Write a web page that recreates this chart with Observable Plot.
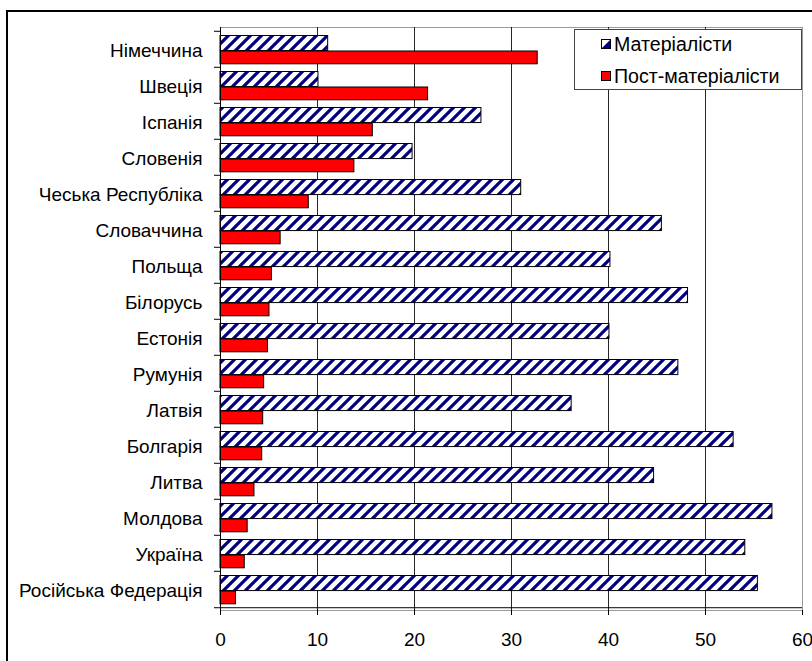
<!DOCTYPE html>
<html>
<head>
<meta charset="utf-8">
<script src="https://cdn.jsdelivr.net/npm/d3@7"></script>
<script src="https://cdn.jsdelivr.net/npm/@observablehq/plot@0.6"></script>
<style>
  html, body { margin: 0; padding: 0; background: #fff; }
  body { width: 812px; height: 661px; overflow: hidden; position: relative; font-family: "Liberation Sans", Arial, sans-serif; }
  #frame { position: absolute; left: 6px; top: 10px; width: 900px; height: 800px; border: 2px solid #000; box-sizing: border-box; }
  #chart { position: absolute; left: 0; top: 0; }
  #chart svg text { font-family: "Liberation Sans", Arial, sans-serif !important; font-size: 19px !important; fill: #000; }
  #legend { position: absolute; left: 574px; top: 29px; width: 228px; height: 61px; border: 1px solid #444; box-sizing: border-box; background: #fff; font-size: 19.6px; color: #000; }
  .item { position: absolute; left: 26px; display: flex; align-items: center; white-space: nowrap; line-height: 20px; }
  .item svg { margin-right: 3px; }
</style>
</head>
<body>
<div id="frame"></div>
<div id="chart"></div>
<div id="legend"></div>
<script>
const countries = [
  "Німеччина", "Швеція", "Іспанія", "Словенія", "Чеська Республіка", "Словаччина",
  "Польща", "Білорусь", "Естонія", "Румунія", "Латвія", "Болгарія", "Литва",
  "Молдова", "Україна", "Російська Федерація"
];
const materialists = [11.1, 10.1, 26.9, 19.8, 31.0, 45.5, 40.2, 48.2, 40.1, 47.2, 36.2, 52.9, 44.7, 56.9, 54.1, 55.4];
const postMaterialists = [32.7, 21.4, 15.7, 13.8, 9.1, 6.2, 5.3, 5.05, 4.9, 4.5, 4.4, 4.3, 3.5, 2.8, 2.5, 1.6];
const seriesNames = ["Матеріалісти", "Пост-матеріалісти"];
const xTicks = [0, 10, 20, 30, 40, 50, 60];

const data = countries.map((c, i) => ({country: c, mat: materialists[i], post: postMaterialists[i]}));

const W = 812, H = 661, mT = 27, mB = 51, mL = 220, mR = 10;
const bw = (H - mT - mB) / countries.length;

function hatchDefs(id) {
  const ns = "http://www.w3.org/2000/svg";
  const s = 11;
  const defs = document.createElementNS(ns, "defs");
  const p = document.createElementNS(ns, "pattern");
  p.setAttribute("id", id);
  p.setAttribute("patternUnits", "userSpaceOnUse");
  p.setAttribute("width", s);
  p.setAttribute("height", s);
  const bg = document.createElementNS(ns, "rect");
  bg.setAttribute("width", s); bg.setAttribute("height", s); bg.setAttribute("fill", "#fff");
  p.appendChild(bg);
  const path = document.createElementNS(ns, "path");
  path.setAttribute("d", `M-2,${s + 2} L${s + 2},-2 M-4,4 L4,-4 M${s - 4},${s + 4} L${s + 4},${s - 4}`);
  path.setAttribute("stroke", "#000080");
  path.setAttribute("stroke-width", 3.2);
  p.appendChild(path);
  defs.appendChild(p);
  return defs;
}

const chart = Plot.plot({
  width: W, height: H,
  marginTop: mT, marginBottom: mB, marginLeft: mL, marginRight: mR,
  style: {fontFamily: "'Liberation Sans', Arial, sans-serif", fontSize: "19px", color: "#000", background: "transparent", overflow: "visible"},
  x: {domain: [0, 60], label: null},
  y: {domain: countries, padding: 0, label: null},
  marks: [
    () => { const g = document.createElementNS("http://www.w3.org/2000/svg", "g"); g.appendChild(hatchDefs("hatch")); return g; },
    Plot.frame({stroke: "#9a9a9a"}),
    Plot.gridX(xTicks.slice(1, -1), {stroke: "#000", strokeOpacity: 0.85}),
    Plot.barX(data, {x: "mat", y: "country", fill: "url(#hatch)", stroke: "#000", strokeWidth: 1, insetTop: 4.5, insetBottom: bw - 20}),
    Plot.barX(data, {x: "post", y: "country", fill: "#ff0000", stroke: "#000", strokeWidth: 1, insetTop: 20, insetBottom: 3.2}),
    Plot.ruleX([0], {stroke: "#000"}),
    Plot.ruleY([countries[countries.length - 1]], {dy: bw / 2, stroke: "#000"}),
    Plot.axisX({ticks: xTicks, tickSize: 5, tickPadding: 17, label: null}),
    Plot.axisY({tickSize: 0, tickPadding: 18, dy: 1.5, label: null}),
    Plot.axisY({tickSize: 6, dy: -bw / 2, tickFormat: () => "", label: null}),
    Plot.axisY({ticks: [countries[countries.length - 1]], tickSize: 6, dy: bw / 2, tickFormat: () => "", label: null})
  ]
});
document.getElementById("chart").appendChild(chart);

// legend
const legend = document.getElementById("legend");
const fills = ["url(#hatch)", "#ff0000"];
const tops = [4, 36];
seriesNames.forEach((name, i) => {
  const item = document.createElement("div");
  item.className = "item";
  item.style.top = tops[i] + "px";
  const sw = d3.create("svg").attr("width", 10).attr("height", 10);
  if (i === 0) {
    sw.append("rect").attr("x", 0.5).attr("y", 0.5).attr("width", 9).attr("height", 9).attr("fill", "#fff").attr("stroke", "#000");
    sw.append("path").attr("d", "M1,9 L9,9 L9,1 Z").attr("fill", "#000080");
    sw.append("rect").attr("x", 0.5).attr("y", 0.5).attr("width", 9).attr("height", 9).attr("fill", "none").attr("stroke", "#000");
  } else {
    sw.append("rect").attr("x", 0.5).attr("y", 0.5).attr("width", 9).attr("height", 9).attr("fill", fills[i]).attr("stroke", "#000");
  }
  item.appendChild(sw.node());
  const t = document.createElement("span");
  t.textContent = name;
  item.appendChild(t);
  legend.appendChild(item);
});
</script>
</body>
</html>
